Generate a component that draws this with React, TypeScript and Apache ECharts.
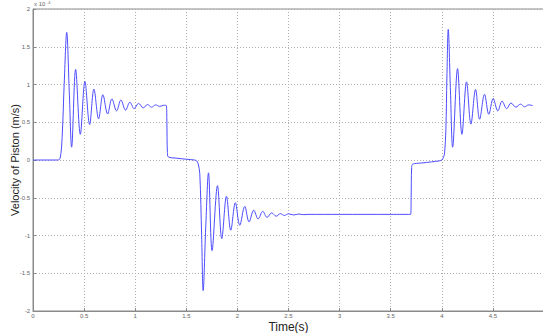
import React, { useEffect, useRef } from "react";
import * as echarts from "echarts";

// Time (s)
const timeS: number[] = [
  0, 0.24, 0.265, 0.285, 0.305, 0.33, 0.355, 0.378, 0.417, 0.463, 0.508, 0.554, 0.596, 0.642,
  0.684, 0.73, 0.772, 0.818, 0.86, 0.906, 0.948, 0.99, 1.033, 1.08, 1.12, 1.16, 1.2, 1.24,
  1.28, 1.305, 1.31, 1.315, 1.325, 1.4, 1.5, 1.58, 1.6, 1.616, 1.632, 1.65, 1.665, 1.69,
  1.717, 1.752, 1.805, 1.847, 1.893, 1.935, 1.98, 2.023, 2.072, 2.114, 2.16, 2.203, 2.248,
  2.29, 2.336, 2.38, 2.42, 2.46, 2.5, 2.55, 2.6, 2.65, 2.7, 3.0, 3.5, 3.695, 3.7, 3.705,
  3.715, 3.8, 3.9, 3.98, 4.0, 4.015, 4.027, 4.04, 4.05, 4.063, 4.085, 4.106, 4.154, 4.197,
  4.242, 4.285, 4.33, 4.37, 4.418, 4.46, 4.503, 4.548, 4.59, 4.635, 4.677, 4.725, 4.77,
  4.81, 4.85, 4.89,
];

// Velocity of piston, in units of 1e-4 m/s
const velocityE4: number[] = [
  0, 0, 0.02, 0.3, 1.0, 1.69, 0.9, 0.17, 1.2, 0.34, 1.04, 0.47, 0.94, 0.545,
  0.865, 0.61, 0.81, 0.65, 0.795, 0.66, 0.765, 0.68, 0.75, 0.69, 0.735, 0.7, 0.73, 0.71,
  0.725, 0.72, 0.5, 0.1, 0.04, 0.025, 0.01, 0.0, -0.01, -0.05, -0.18, -1.0, -1.73, -0.9,
  -0.17, -1.2, -0.34, -1.04, -0.48, -0.93, -0.565, -0.865, -0.615, -0.82, -0.665, -0.78, -0.68,
  -0.76, -0.7, -0.745, -0.71, -0.735, -0.712, -0.728, -0.716, -0.724, -0.72, -0.72, -0.72, -0.72, -0.5, -0.1,
  -0.055, -0.04, -0.025, -0.01, 0.0, 0.03, 0.09, 0.4, 1.1, 1.73, 0.9, 0.17, 1.21, 0.34,
  1.035, 0.475, 0.935, 0.54, 0.87, 0.605, 0.815, 0.65, 0.78, 0.68, 0.755, 0.7, 0.74,
  0.705, 0.73, 0.72,
];

const xTicks = { min: 0, max: 5, interval: 0.5 };
const yTicks = { min: -2, max: 2, interval: 0.5 };

export default function App() {
  const ref = useRef<HTMLDivElement>(null);
  useEffect(() => {
    document.body.style.margin = "0";
    if (!ref.current) return;
    const chart = echarts.init(ref.current, null, { renderer: "svg" });
    const data = timeS.map((t, i) => [t, velocityE4[i]]);
    const font = "Liberation Sans, Arial, sans-serif";
    const split = { show: true, lineStyle: { color: "#aeaeae", width: 1, type: [1, 2] as any } };
    chart.setOption({
      animation: false,
      backgroundColor: "#ffffff",
      grid: {
        left: 33,
        top: 9,
        width: 511,
        height: 302,
        show: true,
        borderColor: "#8a8a8a",
        borderWidth: 1,
        containLabel: false,
        outerBoundsMode: "none",
      },
      xAxis: {
        type: "value",
        min: xTicks.min,
        max: xTicks.max,
        interval: xTicks.interval,
        name: "Time(s)",
        nameLocation: "middle",
        nameGap: 10,
        nameMoveOverlap: false,
        nameTextStyle: { fontSize: 12, color: "#222", fontFamily: font, verticalAlign: "top" },
        axisLine: { show: true, onZero: false, lineStyle: { color: "#8a8a8a", width: 1 } },
        axisTick: { show: true, inside: true, length: 3, lineStyle: { color: "#8a8a8a" } },
        axisLabel: {
          fontSize: 6,
          color: "#666",
          margin: 2,
          fontFamily: font,
          formatter: (v: number) => (v >= 5 ? "" : String(v)),
        },
        splitLine: split,
      },
      yAxis: {
        type: "value",
        min: yTicks.min,
        max: yTicks.max,
        interval: yTicks.interval,
        name: "Velocity of Piston (m/s)",
        nameLocation: "middle",
        nameGap: 13,
        nameRotate: 90,
        nameMoveOverlap: false,
        nameTextStyle: { fontSize: 11, color: "#222", fontFamily: font },
        axisLine: { show: true, onZero: false, lineStyle: { color: "#8a8a8a", width: 1 } },
        axisTick: { show: true, inside: true, length: 3, lineStyle: { color: "#8a8a8a" } },
        axisLabel: { fontSize: 6, color: "#666", margin: 3, fontFamily: font },
        splitLine: split,
      },
      graphic: [
        {
          type: "text",
          left: 34,
          top: 1,
          style: { text: "x 10", fontSize: 6, fill: "#666", fontFamily: font },
        },
        {
          type: "text",
          left: 47,
          top: 0,
          style: { text: "-4", fontSize: 4, fill: "#666", fontFamily: font },
        },
      ],
      series: [
        {
          type: "line",
          data,
          showSymbol: false,
          smooth: 0.35,
          lineStyle: { color: "#4d4dff", width: 1 },
          clip: true,
        },
      ],
    });
    return () => chart.dispose();
  }, []);
  return <div ref={ref} style={{ width: 543, height: 333 }} />;
}
